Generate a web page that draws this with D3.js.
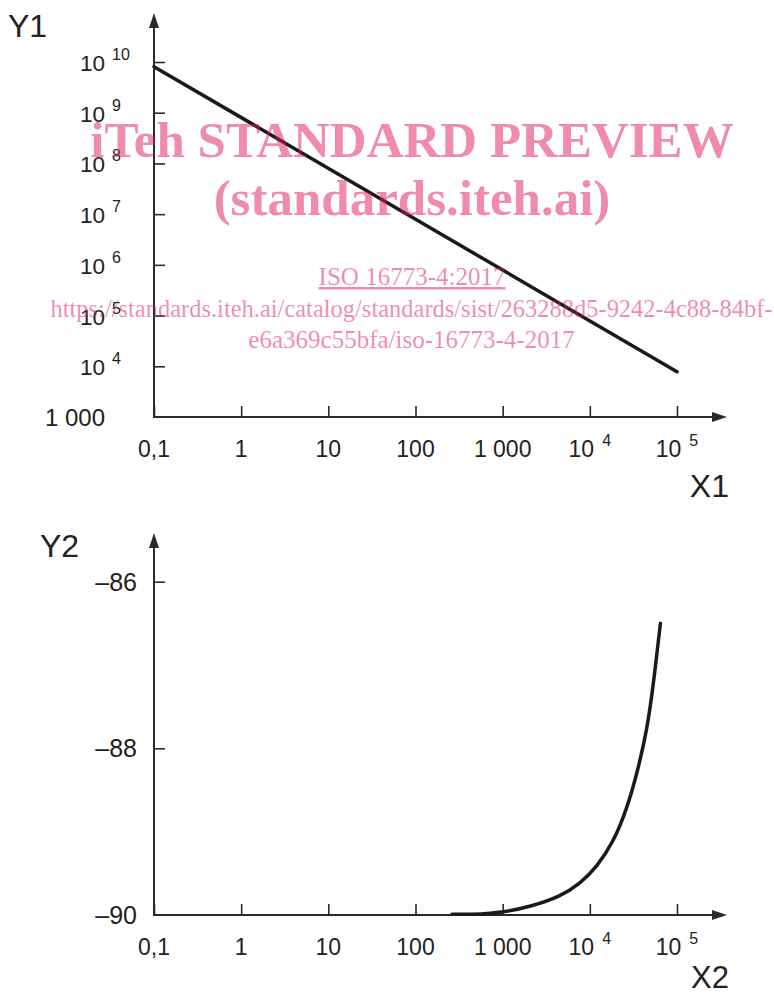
<!DOCTYPE html>
<html>
<head>
<meta charset="utf-8">
<script src="https://cdn.jsdelivr.net/npm/d3@7"></script>
<style>
  html, body { margin: 0; padding: 0; background: #fff; }
  svg { display: block; }
</style>
</head>
<body>
<svg id="chart" width="774" height="995"></svg>
<script>
// ---------------- data ----------------
const xTicks = [0.1, 1, 10, 100, 1000, 1e4, 1e5];
const xTickLabels = [["0,1"], ["1"], ["10"], ["100"], ["1 000"], ["10", "4"], ["10", "5"]];

const y1Ticks = [1000, 1e4, 1e5, 1e6, 1e7, 1e8, 1e9, 1e10];
const y1TickLabels = [["1 000"], ["10", "4"], ["10", "5"], ["10", "6"], ["10", "7"], ["10", "8"], ["10", "9"], ["10", "10"]];

const y2Ticks = [-90, -88, -86];
const y2TickLabels = ["\u201390", "\u201388", "\u201386"];

// series 1: straight line on log-log axes
const s1X = [0.1, 1e5];
const s1Y = [8.1e9, 7.8e3];

// series 2: curve
const s2X = [262, 600, 980, 2075, 4580, 7780, 12080, 18760, 26700, 34800, 45400, 54100, 64500];
const s2Y = [-89.99, -89.99, -89.97, -89.90, -89.78, -89.62, -89.42, -89.12, -88.72, -88.30, -87.78, -87.20, -86.50];

const watermark = [
  "iTeh STANDARD PREVIEW",
  "(standards.iteh.ai)",
  "ISO 16773-4:2017",
  "https://standards.iteh.ai/catalog/standards/sist/263288d5-9242-4c88-84bf-",
  "e6a369c55bfa/iso-16773-4-2017"
];

// ---------------- layout ----------------
const svg = d3.select("#chart");
const sans = "'Liberation Sans', Arial, sans-serif";
const serif = "'Liberation Serif', 'Times New Roman', serif";
const axisColor = "#2a2a2a";

const x = d3.scaleLog().domain([0.1, 1e5]).range([154, 677]);
const y1 = d3.scaleLog().domain([1000, 1e10]).range([417, 62]);
const y2 = d3.scaleLinear().domain([-90, -86]).range([915, 581.7]);

function drawAxes(yScale, yTicks, yBase, yTop, yLabels, yLabelSize) {
  const g = svg.append("g");
  // x axis
  const xa = g.append("g").attr("transform", `translate(0,${yBase})`)
    .call(d3.axisBottom(x).tickValues(xTicks).tickSize(-11).tickFormat(() => ""));
  xa.select(".domain").remove();
  xa.selectAll(".tick line").attr("stroke", axisColor).attr("stroke-width", 1.6);
  g.append("line").attr("x1", 154).attr("x2", 716).attr("y1", yBase).attr("y2", yBase)
    .attr("stroke", axisColor).attr("stroke-width", 2);
  g.append("path").attr("d", `M727,${yBase} L712,${yBase - 5} L712,${yBase + 5} Z`).attr("fill", axisColor);

  // y axis
  const ya = g.append("g").attr("transform", `translate(154,0)`)
    .call(d3.axisLeft(yScale).tickValues(yTicks.slice(1)).tickSize(-11).tickFormat(() => ""));
  ya.select(".domain").remove();
  ya.selectAll(".tick line").attr("stroke", axisColor).attr("stroke-width", 1.6);
  g.append("line").attr("x1", 154).attr("x2", 154).attr("y1", yBase + 1).attr("y2", yTop + 13)
    .attr("stroke", axisColor).attr("stroke-width", 2);
  g.append("path").attr("d", `M154,${yTop} L149,${yTop + 15} L159,${yTop + 15} Z`).attr("fill", axisColor);

  // x tick labels
  xTicks.forEach((v, i) => {
    const lab = xTickLabels[i];
    const t = g.append("text").attr("x", x(v)).attr("y", yBase + 40)
      .attr("text-anchor", "middle").attr("font-family", sans).attr("font-size", 23).attr("fill", "#222");
    t.append("tspan").text(lab[0]);
    if (lab[1]) {
      t.append("tspan").attr("dx", 8).attr("dy", -11).attr("font-size", 16).text(lab[1]);
    }
  });

  // y tick labels
  yTicks.forEach((v, i) => {
    const lab = yLabels[i];
    const yy = yScale(v);
    if (Array.isArray(lab) && lab[1]) {
      g.append("text").attr("x", 105).attr("y", yy + 9).attr("text-anchor", "end")
        .attr("font-family", sans).attr("font-size", yLabelSize).attr("fill", "#222").text(lab[0]);
      g.append("text").attr("x", 112).attr("y", yy - 2).attr("text-anchor", "start")
        .attr("font-family", sans).attr("font-size", 16).attr("fill", "#222").text(lab[1]);
    } else {
      const txt = Array.isArray(lab) ? lab[0] : lab;
      g.append("text").attr("x", Array.isArray(lab) ? 105 : 137).attr("y", yy + 9).attr("text-anchor", "end")
        .attr("font-family", sans).attr("font-size", Array.isArray(lab) ? yLabelSize + 1.5 : yLabelSize)
        .attr("fill", "#222").text(txt);
    }
  });
  return g;
}

// ---------- top chart ----------
drawAxes(y1, y1Ticks, 417, 13, y1TickLabels, 22.5);
svg.append("text").attr("x", 8).attr("y", 37).attr("font-family", sans).attr("font-size", 32).attr("fill", "#222").text("Y1");
svg.append("text").attr("x", 729).attr("y", 497).attr("text-anchor", "end").attr("font-family", sans).attr("font-size", 32).attr("fill", "#222").text("X1");

const line1 = d3.line().x(d => x(d[0])).y(d => y1(d[1]));
svg.append("path").datum(s1X.map((v, i) => [v, s1Y[i]]))
  .attr("d", line1).attr("fill", "none").attr("stroke", "#1a1a1a").attr("stroke-width", 3.5).attr("stroke-linecap", "round");

// ---------- bottom chart ----------
drawAxes(y2, y2Ticks, 915, 533, y2TickLabels, 25);
svg.append("text").attr("x", 40).attr("y", 557).attr("font-family", sans).attr("font-size", 32).attr("fill", "#222").text("Y2");
svg.append("text").attr("x", 729).attr("y", 988).attr("text-anchor", "end").attr("font-family", sans).attr("font-size", 31).attr("fill", "#222").text("X2");

const line2 = d3.line().x(d => x(d[0])).y(d => y2(d[1])).curve(d3.curveBasis);
svg.append("path").datum(s2X.map((v, i) => [v, s2Y[i]]))
  .attr("d", line2).attr("fill", "none").attr("stroke", "#1a1a1a").attr("stroke-width", 3.5).attr("stroke-linecap", "round");

// ---------- watermark ----------
const wm = svg.append("g").attr("fill", "#e0185a").attr("fill-opacity", 0.5).attr("text-anchor", "middle").attr("font-family", serif);
wm.append("text").attr("x", 412).attr("y", 157).attr("font-size", 51).attr("font-weight", "bold").text(watermark[0]);
wm.append("text").attr("x", 412).attr("y", 215).attr("font-size", 51).attr("font-weight", "bold").text(watermark[1]);
wm.append("text").attr("x", 412).attr("y", 285).attr("font-size", 25).attr("text-decoration", "underline").text(watermark[2]);
wm.append("text").attr("x", 411.5).attr("y", 317).attr("font-size", 24.5)
  .attr("textLength", 722).attr("lengthAdjust", "spacingAndGlyphs").text(watermark[3]);
wm.append("text").attr("x", 411.5).attr("y", 348).attr("font-size", 25).text(watermark[4]);
</script>
</body>
</html>
